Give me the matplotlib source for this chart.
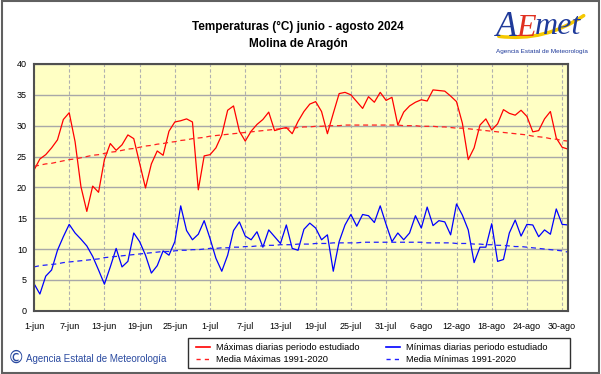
import numpy as np
import matplotlib
matplotlib.use("Agg")
import matplotlib.pyplot as plt
from matplotlib.patches import Rectangle, FancyArrowPatch
from matplotlib.lines import Line2D

plt.rcParams['font.family'] = ['Liberation Sans', 'DejaVu Sans']

# ---- data (1-jun .. 31-ago 2024) ----
tmax = [22.8, 24.6, 25.3, 26.4, 27.7, 31.0, 32.1, 27.4, 20.1, 16.1,
        20.2, 19.2, 24.5, 27.1, 26.0, 26.9, 28.5, 27.9, 23.9, 19.9,
        23.8, 25.9, 25.2, 29.1, 30.6, 30.8, 31.1, 30.6, 19.6, 25.1,
        25.3, 26.4, 28.5, 32.5, 33.2, 29.1, 27.5, 29.1, 30.2, 31.0,
        32.2, 29.2, 29.5, 29.7, 28.7, 30.7, 32.3, 33.5, 33.9, 32.3,
        28.7, 32.0, 35.2, 35.4, 35.0, 33.9, 32.8, 34.7, 33.8, 35.4,
        34.1, 34.6, 30.1, 32.2, 33.2, 33.8, 34.2, 34.0, 35.8, 35.7,
        35.6, 34.8, 33.9, 30.4, 24.5, 26.4, 30.1, 31.1, 29.3, 30.3,
        32.6, 32.0, 31.7, 32.5, 31.5, 29.0, 29.2, 31.1, 32.3, 28.0,
        26.5, 26.2]
tmin = [4.4, 2.7, 5.6, 6.6, 9.8, 12.0, 14.0, 12.6, 11.6, 10.5,
        8.8, 6.6, 4.3, 7.1, 10.1, 7.1, 8.0, 12.6, 11.2, 9.0,
        6.1, 7.3, 9.7, 9.0, 11.2, 17.0, 13.0, 11.5, 12.4, 14.6,
        11.7, 8.5, 6.4, 9.0, 13.0, 14.4, 12.1, 11.5, 12.8, 10.3,
        13.1, 12.0, 10.9, 13.9, 10.1, 9.8, 13.2, 14.2, 13.4, 11.5,
        12.3, 6.4, 11.2, 13.9, 15.6, 13.7, 15.6, 15.4, 14.3, 17.0,
        14.0, 11.2, 12.6, 11.5, 12.6, 15.4, 13.4, 16.8, 13.8, 14.6,
        14.4, 12.3, 17.3, 15.5, 13.1, 7.8, 10.3, 10.3, 14.1, 8.0,
        8.3, 12.6, 14.7, 12.1, 14.0, 13.9, 12.0, 13.1, 12.4, 16.5,
        14.0, 13.9]
mean_max = [23.4, 23.6, 23.8, 23.9, 24.1, 24.3, 24.5, 24.6, 24.8, 25.0,
            25.2, 25.3, 25.5, 25.7, 25.8, 26.0, 26.2, 26.3, 26.5, 26.7,
            26.8, 27.0, 27.1, 27.3, 27.4, 27.6, 27.7, 27.9, 28.0, 28.1,
            28.3, 28.4, 28.5, 28.6, 28.7, 28.8, 28.9, 29.0, 29.1, 29.2,
            29.3, 29.4, 29.5, 29.6, 29.6, 29.7, 29.8, 29.8, 29.9, 29.9,
            30.0, 30.0, 30.0, 30.1, 30.1, 30.1, 30.1, 30.1, 30.1, 30.1,
            30.1, 30.1, 30.1, 30.0, 30.0, 30.0, 29.9, 29.9, 29.9, 29.8,
            29.8, 29.7, 29.6, 29.6, 29.5, 29.4, 29.3, 29.2, 29.1, 29.0,
            28.9, 28.8, 28.7, 28.6, 28.5, 28.3, 28.2, 28.1, 27.9, 27.8,
            27.6, 27.5]
mean_min = [7.1, 7.3, 7.4, 7.5, 7.6, 7.8, 7.9, 8.0, 8.1, 8.2,
            8.3, 8.4, 8.6, 8.7, 8.8, 8.9, 9.0, 9.1, 9.2, 9.3,
            9.4, 9.5, 9.6, 9.6, 9.7, 9.8, 9.8, 9.9, 9.9, 10.0,
            10.1, 10.1, 10.2, 10.2, 10.3, 10.3, 10.4, 10.4, 10.5, 10.5,
            10.6, 10.6, 10.7, 10.7, 10.7, 10.8, 10.8, 10.8, 10.9, 10.9,
            10.9, 11.0, 11.0, 11.0, 11.0, 11.0, 11.1, 11.1, 11.1, 11.1,
            11.1, 11.1, 11.1, 11.1, 11.1, 11.1, 11.1, 11.0, 11.0, 11.0,
            11.0, 11.0, 10.9, 10.9, 10.9, 10.8, 10.8, 10.7, 10.7, 10.6,
            10.6, 10.5, 10.4, 10.4, 10.3, 10.2, 10.1, 10.0, 9.9, 9.8,
            9.7, 9.5]
tick_days = [0, 6, 12, 18, 24, 30, 36, 42, 48, 54, 60, 66, 72, 78, 84, 90]
tick_labels = ["1-jun", "7-jun", "13-jun", "19-jun", "25-jun", "1-jul",
               "7-jul", "13-jul", "19-jul", "25-jul", "31-jul", "6-ago",
               "12-ago", "18-ago", "24-ago", "30-ago"]

days = np.arange(len(tmax))
W, H = 601, 374


def fx(px):
    return px / W


def fy(py):
    return 1 - py / H


fig = plt.figure(figsize=(6.01, 3.74), dpi=100)
ax = fig.add_axes([fx(34), fy(310.7), 534 / W, 246.7 / H])
ax.set_facecolor("#ffffc4")

ax.plot(days, tmax, color="#ff0000", lw=0.9)
ax.plot(days, mean_max, color="#ff2020", lw=0.9, ls=(0, (4, 3)))
ax.plot(days, tmin, color="#0000ff", lw=0.9)
ax.plot(days, mean_min, color="#2020ff", lw=0.9, ls=(0, (4, 3)))

ax.set_xlim(0, 91)
ax.set_ylim(0, 40)
ax.set_yticks(range(0, 41, 5))
ax.set_xticks(tick_days)
ax.set_xticklabels(tick_labels)
ax.tick_params(length=0, labelsize=6.5)
ax.tick_params(axis="y", pad=5)
ax.tick_params(axis="x", pad=8)
ax.yaxis.grid(True, color="#a8a8a8", lw=1.0, ls="-")
ax.xaxis.grid(True, color="#b0b0b0", lw=0.8, ls=(0, (3, 2)))
ax.set_axisbelow(True)
for s in ax.spines.values():
    s.set_color("#505050")
    s.set_linewidth(1.5)

# titles
fig.text(0.496, fy(27), "Temperaturas (°C) junio - agosto 2024",
         ha="center", va="center", fontsize=8.5, fontweight="bold")
fig.text(0.496, fy(44), "Molina de Aragón",
         ha="center", va="center", fontsize=8.5, fontweight="bold")

# logo (text approximation)
swoosh = FancyArrowPatch((fx(496), fy(36)), (fx(586), fy(14)),
                         connectionstyle="arc3,rad=0.2", arrowstyle="-",
                         color="#f5c800", lw=2.5, transform=fig.transFigure)
fig.patches.append(swoosh)
fig.text(fx(496), fy(27), "A", color="#1f3a9a", fontsize=25,
         style="italic", ha="left", va="center", family="Liberation Serif")
fig.text(fx(516), fy(28), "E", color="#e03020", fontsize=23,
         style="italic", ha="left", va="center", family="Liberation Serif")
fig.text(fx(535), fy(27), "met", color="#1f3a9a", fontsize=23,
         style="italic", ha="left", va="center", family="Liberation Serif")
fig.text(fx(542), fy(52), "Agencia Estatal de Meteorología",
         color="#1f3a9a", fontsize=4.6, ha="center", va="center")

fig.text(fx(8), fy(358), "©", color="#2a4aa0", fontsize=12,
         ha="left", va="center", family="DejaVu Sans")
fig.text(fx(26), fy(359), "Agencia Estatal de Meteorología",
         color="#2a4aa0", fontsize=7, ha="left", va="center")

# legend: frame drawn separately so the padding matches the original
fig.patches.append(Rectangle((fx(188), fy(368)), 382 / W, 30 / H,
                             facecolor="white", edgecolor="#303030", lw=1.0,
                             transform=fig.transFigure))
handles = [Line2D([], [], color="#ff0000", lw=1.2),
           Line2D([], [], color="#ff2020", lw=1.0, ls=(0, (3, 3))),
           Line2D([], [], color="#0000ff", lw=1.2),
           Line2D([], [], color="#2020ff", lw=1.0, ls=(0, (3, 3)))]
labels = ["Máximas diarias periodo estudiado", "Media Máximas 1991-2020",
          "Mínimas diarias periodo estudiado", "Media Mínimas 1991-2020"]
leg = fig.legend(handles, labels, ncol=2, loc="center",
                 bbox_to_anchor=(fx(372), fy(353.5)),
                 fontsize=6.7, frameon=False,
                 handlelength=1.5, handletextpad=0.65, columnspacing=2.9,
                 labelspacing=0.3, borderpad=0.0)

# outer frame
fig.patches.append(Rectangle((0.004, 0.004), 0.992, 0.992, fill=False,
                             edgecolor="#606060", lw=1.5,
                             transform=fig.transFigure))

fig.savefig("out.png", dpi=100)
